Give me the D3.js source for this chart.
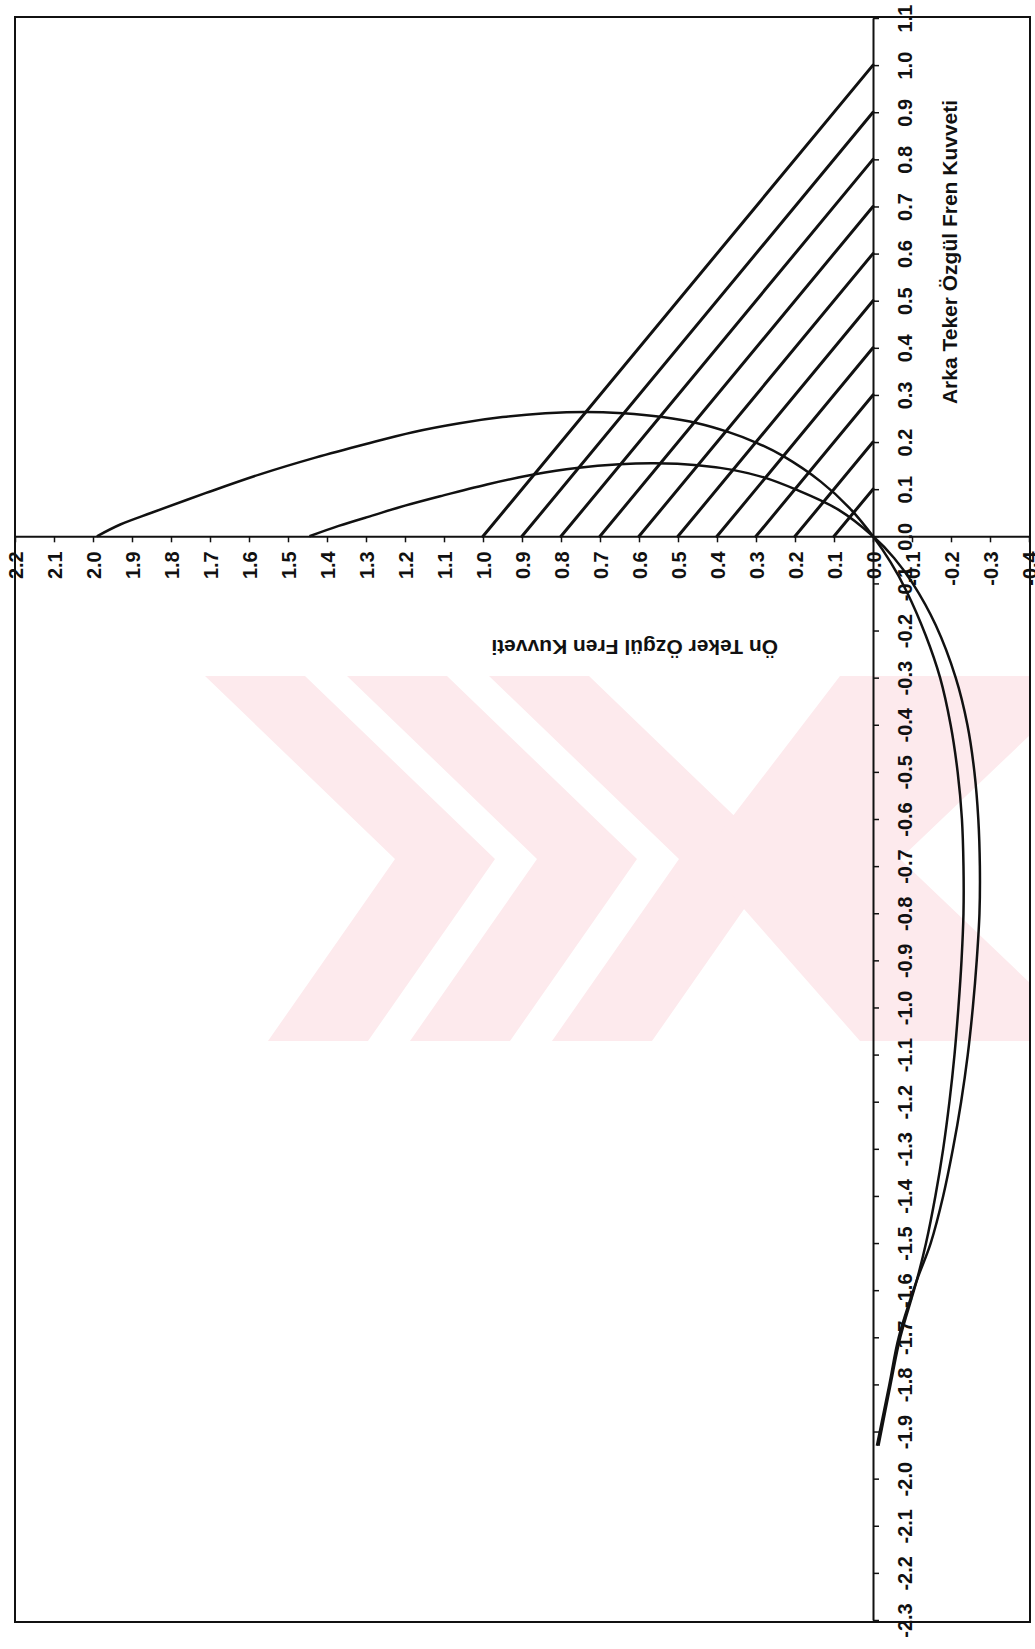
<!DOCTYPE html>
<html>
<head>
<meta charset="utf-8">
<script src="https://cdn.jsdelivr.net/npm/d3@7"></script>
<style>
  body { margin: 0; background: #fff; }
  svg { display: block; }
  text { font-family: "Liberation Sans", Arial, sans-serif; font-weight: bold; fill: #111; }
</style>
</head>
<body>
<svg id="chart" width="1035" height="1649"></svg>
<script>
// Tick values of the two axes (front = Ön, rear = Arka specific braking force)
const frontTicks = [2.2, 2.1, 2.0, 1.9, 1.8, 1.7, 1.6, 1.5, 1.4, 1.3, 1.2, 1.1, 1.0,
  0.9, 0.8, 0.7, 0.6, 0.5, 0.4, 0.3, 0.2, 0.1, 0.0, -0.1, -0.2, -0.3, -0.4];
const rearTicks = [1.1, 1.0, 0.9, 0.8, 0.7, 0.6, 0.5, 0.4, 0.3, 0.2, 0.1, 0.0,
  -0.1, -0.2, -0.3, -0.4, -0.5, -0.6, -0.7, -0.8, -0.9, -1.0, -1.1, -1.2, -1.3,
  -1.4, -1.5, -1.6, -1.7, -1.8, -1.9, -2.0, -2.1, -2.2, -2.3];

// Constant total deceleration lines: front + rear = z
const decelLevels = [0.1, 0.2, 0.3, 0.4, 0.5, 0.6, 0.7, 0.8, 0.9, 1.0];

// Ideal braking force distribution, loaded vehicle
const idealLoadedFront = [1.99, 1.93, 1.85, 1.71, 1.57, 1.43, 1.30, 1.18, 1.06, 0.95,
  0.84, 0.74, 0.64, 0.54, 0.45, 0.37, 0.30, 0.23, 0.134, 0.06, 0.0,
  -0.045, -0.085, -0.135, -0.172, -0.199, -0.217, -0.228, -0.232, -0.232, -0.227,
  -0.219, -0.209, -0.196, -0.180, -0.160, -0.136, -0.112, -0.070, -0.045, -0.014];
const idealLoadedRear = [0.0, 0.025, 0.050, 0.092, 0.132, 0.167, 0.196, 0.221, 0.240, 0.253,
  0.261, 0.264, 0.261, 0.253, 0.240, 0.221, 0.199, 0.170, 0.116, 0.060, 0.0,
  -0.055, -0.115, -0.21, -0.30, -0.40, -0.50, -0.60, -0.70, -0.80, -0.90,
  -1.00, -1.10, -1.20, -1.30, -1.40, -1.50, -1.58, -1.70, -1.80, -1.93];

// Ideal braking force distribution, empty vehicle
const idealEmptyFront = [1.445, 1.37, 1.28, 1.20, 1.11, 0.99, 0.87, 0.76, 0.65, 0.56,
  0.45, 0.36, 0.28, 0.20, 0.09, 0.0,
  -0.054, -0.101, -0.161, -0.212, -0.242, -0.260, -0.270, -0.274, -0.273, -0.266,
  -0.256, -0.243, -0.226, -0.205, -0.180, -0.148, -0.112, -0.066, -0.042, -0.010];
const idealEmptyRear = [0.0, 0.022, 0.045, 0.065, 0.085, 0.110, 0.131, 0.145, 0.153, 0.155,
  0.151, 0.141, 0.125, 0.100, 0.057, 0.0,
  -0.046, -0.099, -0.189, -0.30, -0.40, -0.50, -0.60, -0.70, -0.80, -0.90,
  -1.00, -1.10, -1.20, -1.30, -1.40, -1.50, -1.58, -1.70, -1.80, -1.93];

const frontTitle = "Ön Teker Özgül Fren Kuvveti";
const rearTitle = "Arka Teker Özgül Fren Kuvveti";

const svg = d3.select("#chart");

// Front force runs right-to-left, rear force bottom-to-top
const x = d3.scaleLinear().domain([2.2, -0.4]).range([15, 1029]);
const y = d3.scaleLinear().domain([1.1, -2.3]).range([18, 1620]);
const fmt = v => d3.format(".1f")(Math.abs(v) < 1e-9 ? 0 : v).replace("\u2212", "-");

// Faint background emblem
const emblem = svg.append("g").attr("fill", "#fdeaed");
const chevronStarts = [205, 347, 489];
chevronStarts.forEach(x0 => {
  const pts = [[x0, 676], [x0 + 100, 676], [x0 + 290, 859], [x0 + 163, 1041],
               [x0 + 63, 1041], [x0 + 190, 859]];
  emblem.append("polygon").attr("points", pts.map(p => p.join(",")).join(" "));
});
emblem.append("polygon").attr("points", "840,676 1030,676 1030,735 900,859 1030,983 1030,1041 860,1041 700,859");

// Plot frame
svg.append("rect")
  .attr("x", 15).attr("y", 17).attr("width", 1015).attr("height", 1605)
  .attr("fill", "none").attr("stroke", "#111").attr("stroke-width", 2);

const labelStyle = sel => sel
  .style("font-size", "20px").style("font-family", "Liberation Sans, Arial, sans-serif")
  .style("font-weight", "bold").attr("fill", "#111");

// Horizontal axis (front)
const xAxis = svg.append("g")
  .attr("transform", `translate(0,${y(0)})`)
  .call(d3.axisBottom(x).tickValues(frontTicks).tickSize(6).tickSizeOuter(0).tickFormat(fmt));
xAxis.select(".domain").attr("stroke", "#111").attr("stroke-width", 2);
xAxis.selectAll(".tick line").attr("stroke", "#111").attr("stroke-width", 1.5);
xAxis.selectAll(".tick text")
  .attr("x", 0).attr("y", 0).attr("dy", "0.35em")
  .attr("transform", "translate(0,15) rotate(-90)")
  .attr("text-anchor", "end")
  .call(labelStyle);

// Vertical axis (rear)
const yAxis = svg.append("g")
  .attr("transform", `translate(${x(0)},0)`)
  .call(d3.axisRight(y).tickValues(rearTicks).tickSize(6).tickSizeOuter(0).tickFormat(fmt));
yAxis.select(".domain").attr("stroke", "#111").attr("stroke-width", 2);
yAxis.selectAll(".tick line").attr("stroke", "#111").attr("stroke-width", 1.5);
yAxis.selectAll(".tick text")
  .attr("x", 0).attr("y", 0).attr("dy", "0.35em")
  .attr("transform", "translate(32,0) rotate(-90)")
  .attr("text-anchor", "middle")
  .call(labelStyle);

// Deceleration lines
svg.append("g").selectAll("line").data(decelLevels).join("line")
  .attr("x1", d => x(d)).attr("y1", y(0))
  .attr("x2", x(0)).attr("y2", d => y(d))
  .attr("stroke", "#111").attr("stroke-width", 3).attr("stroke-linecap", "round");

// Ideal distribution curves
const line = d3.line().x(d => x(d[0])).y(d => y(d[1])).curve(d3.curveCatmullRom.alpha(0.5));
const curves = [
  d3.zip(idealLoadedFront, idealLoadedRear),
  d3.zip(idealEmptyFront, idealEmptyRear)
];
svg.append("g").selectAll("path").data(curves).join("path")
  .attr("d", line)
  .attr("fill", "none").attr("stroke", "#111").attr("stroke-width", 2.5);

// Axis titles
svg.append("text")
  .attr("transform", `translate(957,252) rotate(-90)`)
  .attr("text-anchor", "middle")
  .style("font-size", "21px")
  .text(rearTitle);
svg.append("text")
  .attr("transform", `translate(778,640) rotate(180)`)
  .attr("text-anchor", "start")
  .style("font-size", "21px")
  .text(frontTitle);
</script>
</body>
</html>
